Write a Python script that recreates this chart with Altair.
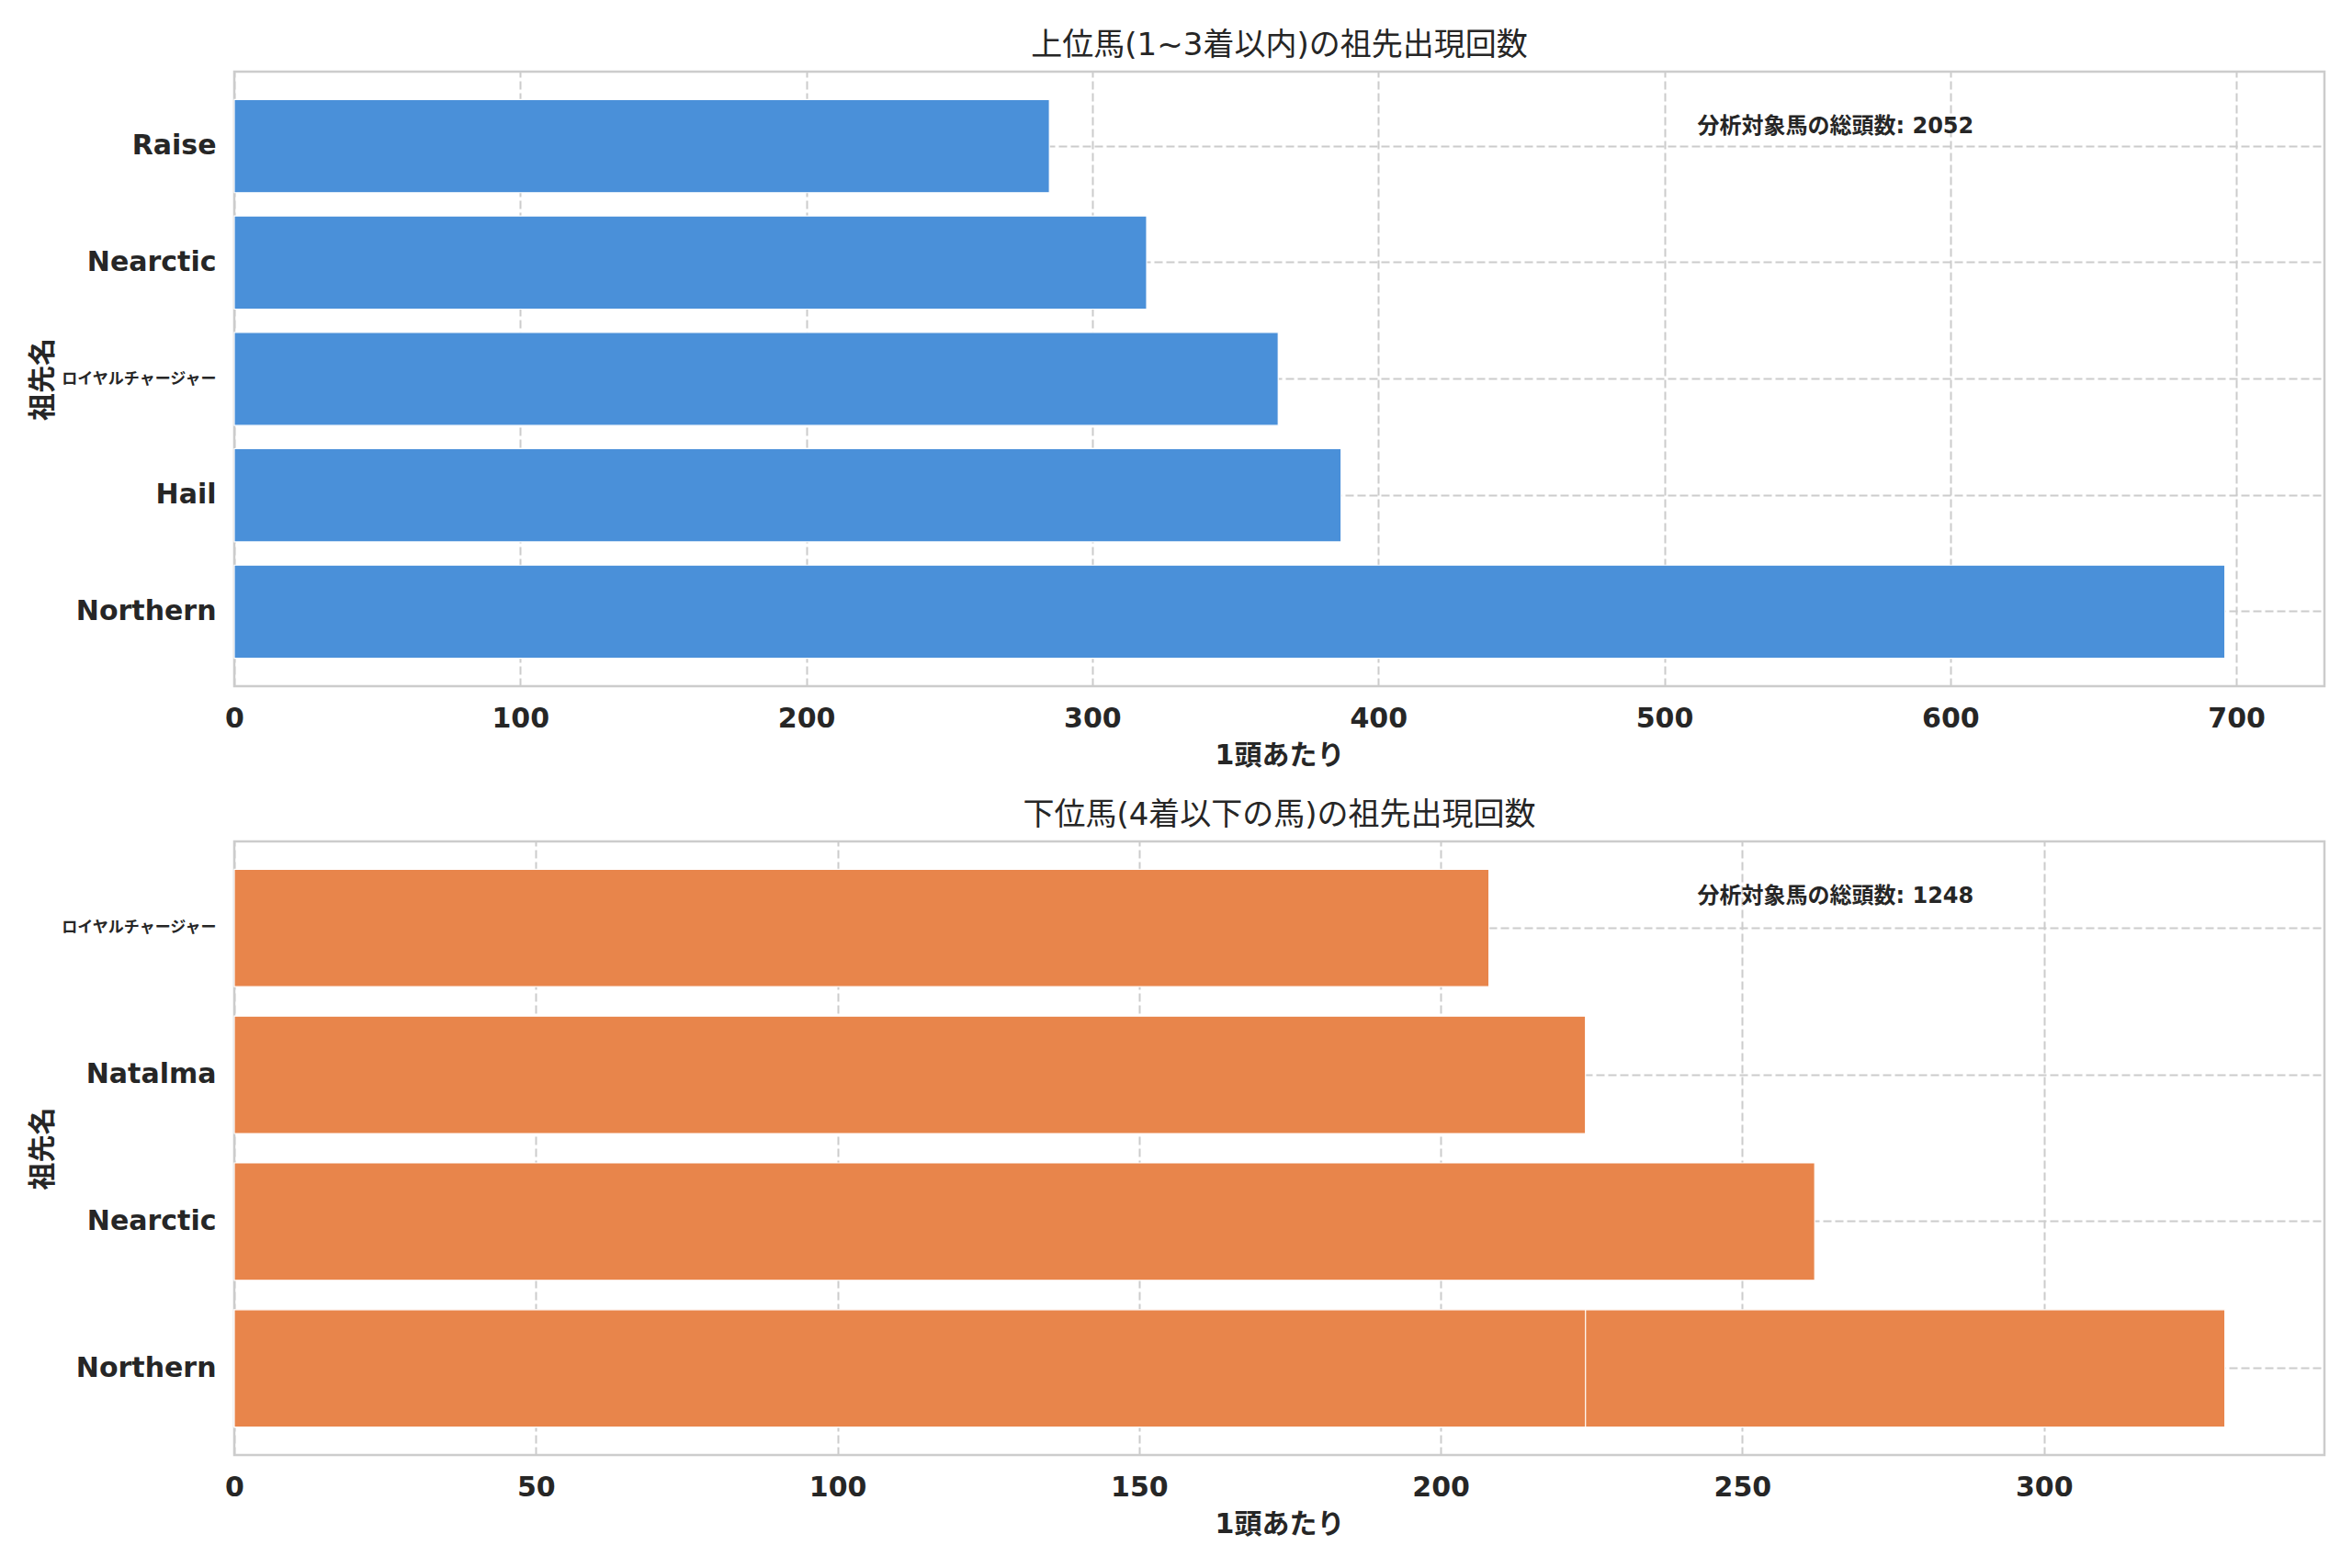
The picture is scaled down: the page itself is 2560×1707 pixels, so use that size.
import altair as alt
import pandas as pd

# ---- data ----
top_names = ["Northern", "Hail", "ロイヤルチャージャー", "Nearctic", "Raise"]
top_counts = [696, 387, 365, 319, 285]
top_order = ["Raise", "Nearctic", "ロイヤルチャージャー", "Hail", "Northern"]

bot_names = ["Northern", "Nearctic", "Northern", "Natalma", "ロイヤルチャージャー"]
bot_counts = [330, 262, 224, 224, 208]
bot_order = ["ロイヤルチャージャー", "Natalma", "Nearctic", "Northern"]

top_title = "上位馬(1~3着以内)の祖先出現回数"
bot_title = "下位馬(4着以下の馬)の祖先出現回数"
x_title = "1頭あたり"
y_title = "祖先名"
note_label = "分析対象馬の総頭数"

top_ticks = [0, 100, 200, 300, 400, 500, 600, 700]
bot_ticks = [0, 50, 100, 150, 200, 250, 300]

BLUE = "#4A90D9"
ORANGE = "#E8854B"
TXT = "#262626"
FONT = "DejaVu Sans, 'Noto Sans CJK JP', sans-serif"

W = 2275
H_TOP = 669
H_BOT = 668

long_label = "ロイヤルチャージャー"
label_size = {"condition": {"test": f"datum.value === '{long_label}'", "value": 17}, "value": 30}


def panel(names, counts, order, color, ticks, title, h, pad_outer):
    df = pd.DataFrame({"name": names, "count": counts, "idx": list(range(len(names)))})
    xmax = max(counts) * 1.05

    base = alt.Chart(df)
    bars = base.mark_bar(color=color, stroke="white", strokeWidth=1.2).encode(
        x=alt.X(
            "count:Q",
            stack=False,
            scale=alt.Scale(domain=[0, xmax], nice=False, zero=True),
            axis=alt.Axis(
                values=ticks,
                title=x_title,
                grid=True,
                gridDash=[9, 4],
                gridColor="#cccccc",
                gridWidth=2,
                ticks=False,
                tickSize=0,
                domain=False,
                labelFlush=False,
                labelPadding=20,
                labelFontSize=30,
                labelFontWeight="bold",
                labelColor=TXT,
                labelFont=FONT,
                titlePadding=10,
                titleFontSize=30,
                titleFontWeight="bold",
                titleColor=TXT,
                titleFont=FONT,
            ),
        ),
        y=alt.Y(
            "name:N",
            sort=order,
            scale=alt.Scale(paddingInner=0.2, paddingOuter=pad_outer),
            axis=alt.Axis(
                title=y_title,
                grid=True,
                gridDash=[9, 4],
                gridColor="#cccccc",
                gridWidth=2,
                bandPosition=0.5,
                ticks=False,
                tickSize=0,
                domain=False,
                labelPadding=20,
                labelFontSize=label_size,
                labelFontWeight="bold",
                labelColor=TXT,
                labelFont=FONT,
                titlePadding=4,
                titleFontSize=30,
                titleFontWeight="bold",
                titleColor=TXT,
                titleFont=FONT,
            ),
        ),
        order=alt.Order("idx:Q"),
    )

    note_df = pd.DataFrame({"t": [f"{note_label}: {sum(counts)}"]})
    note = alt.Chart(note_df).mark_text(
        align="left", baseline="middle", fontSize=24, fontWeight="bold", color=TXT, font=FONT
    ).encode(
        text="t:N",
        x=alt.value(W * 0.7),
        y=alt.value(h * 0.09),
    )

    return alt.layer(bars, note).properties(
        width=W,
        height=h,
        title=alt.TitleParams(
            text=title, fontSize=34, fontWeight="normal", color=TXT, font=FONT, offset=11, anchor="middle"
        ),
    )


top = panel(top_names, top_counts, top_order, BLUE, top_ticks, top_title, H_TOP, 0.24)
bot = panel(bot_names, bot_counts, bot_order, ORANGE, bot_ticks, bot_title, H_BOT, 0.19)

chart = alt.vconcat(top, bot, spacing=30).properties(
    padding={"left": 21, "top": 23, "right": 5, "bottom": 5},
    background="white",
).configure_view(
    stroke="#cccccc", strokeWidth=2.5
)

chart.save("out.html", embed_options={"renderer": "svg", "actions": False})
